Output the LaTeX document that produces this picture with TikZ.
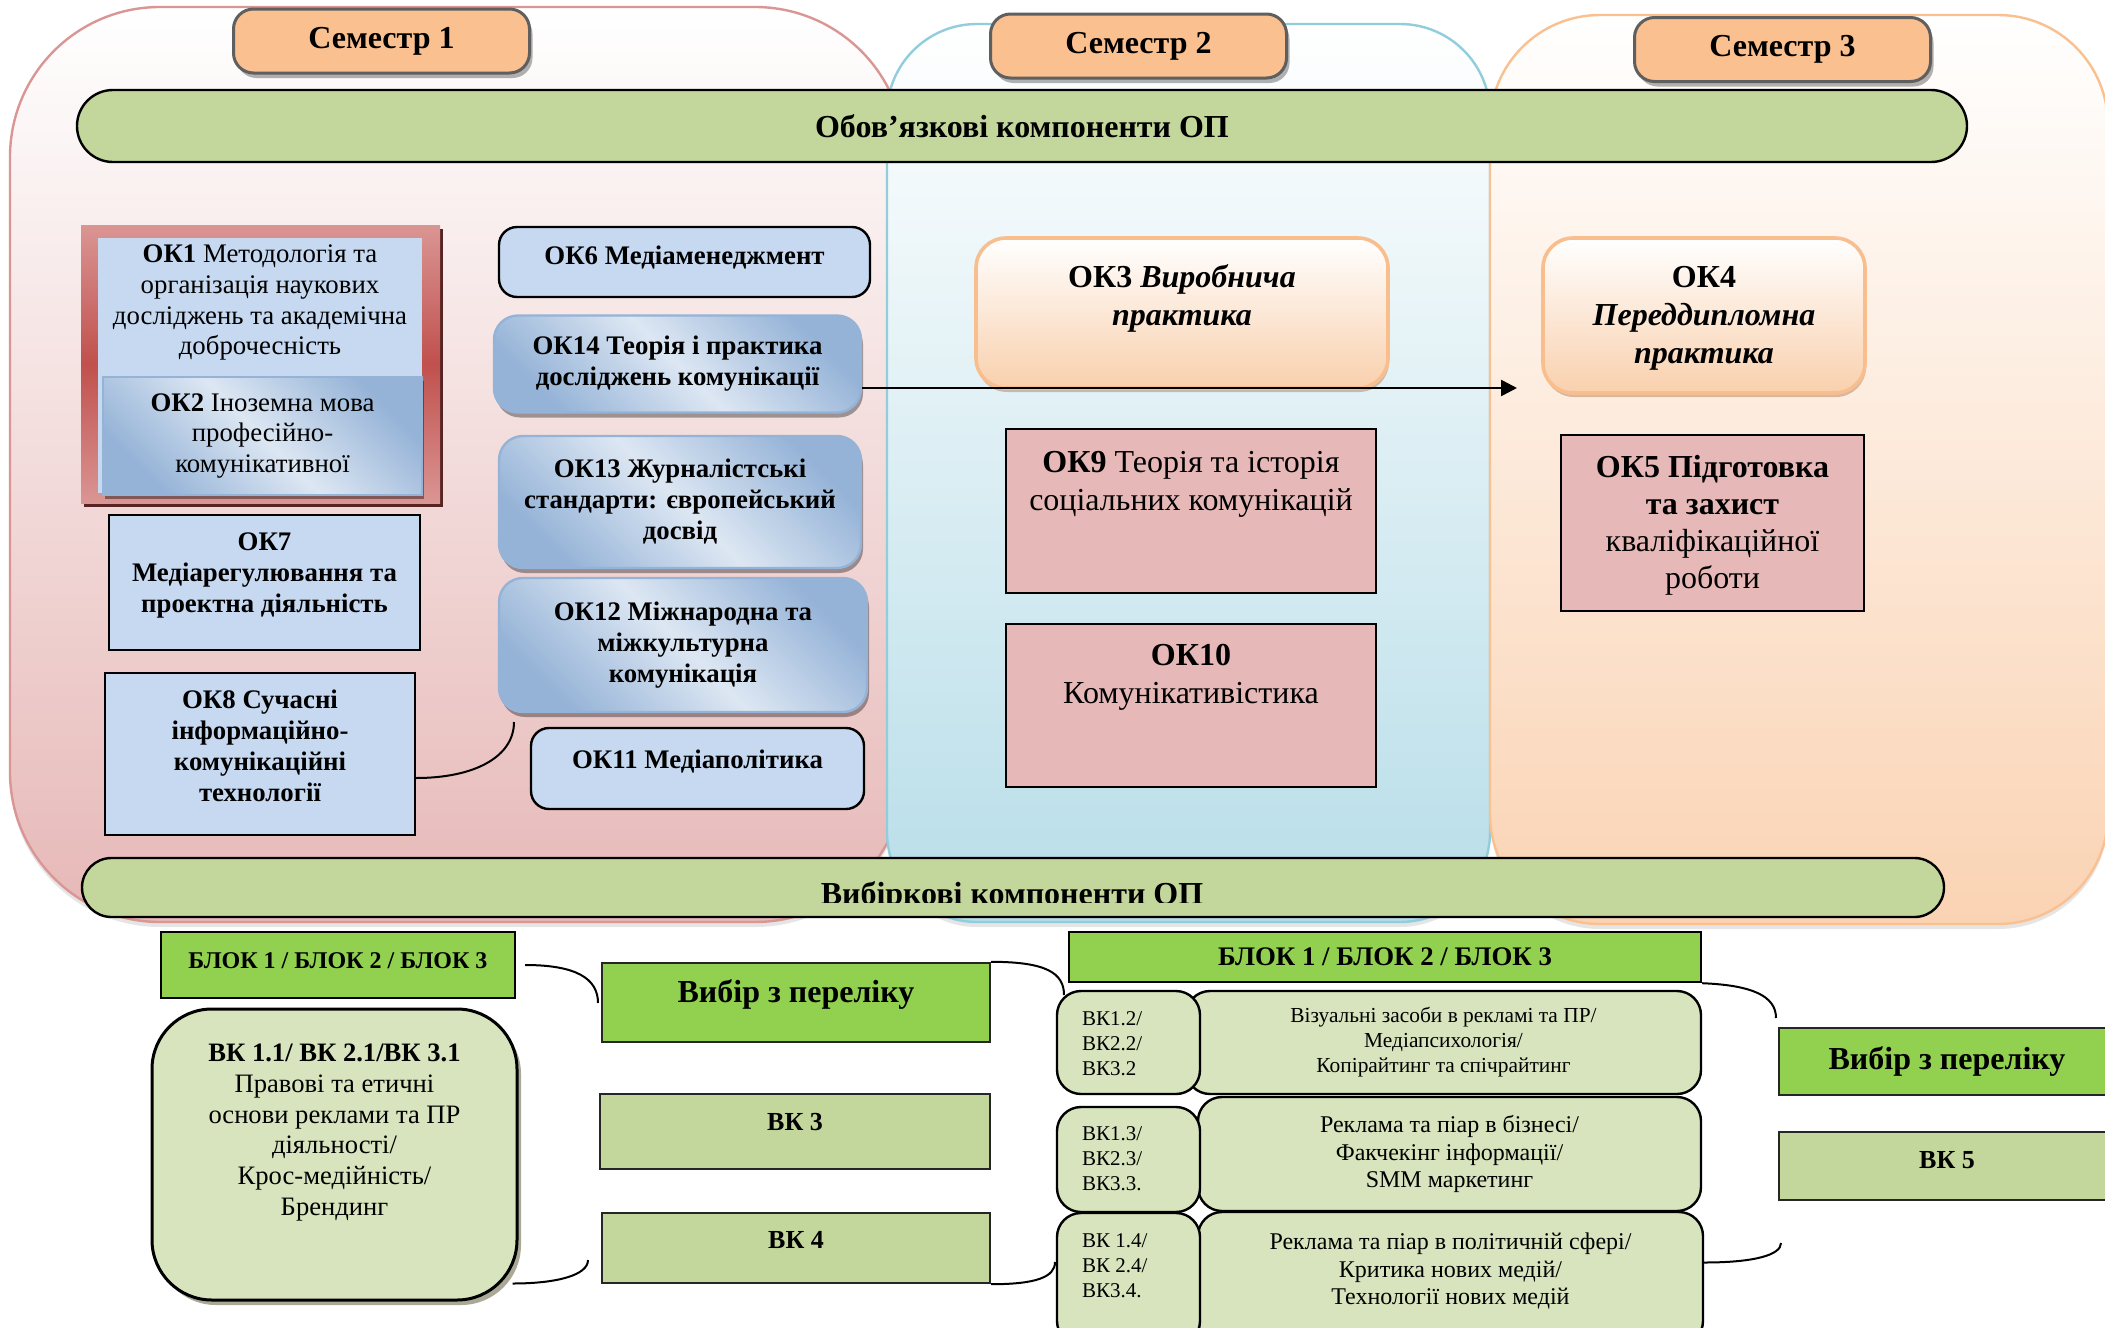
\documentclass[tikz,border=0pt]{standalone}
\usepackage{fontspec}
\setmainfont{Liberation Serif}
\usetikzlibrary{shadows,arrows.meta}

\definecolor{semfill}{HTML}{FAC090}
\definecolor{semline}{HTML}{5F5F5F}
\definecolor{bargreen}{HTML}{C3D69B}
\definecolor{okblue}{HTML}{C6D9F1}
\definecolor{okblueline}{HTML}{95B3D7}
\definecolor{oklight}{HTML}{DDE7F3}
\definecolor{okrose}{HTML}{E6B9B8}
\definecolor{brightgreen}{HTML}{92D050}
\definecolor{vkgreen}{HTML}{D7E4BD}
\definecolor{pinkline}{HTML}{D99694}
\definecolor{pinkbot}{HTML}{E6B8B7}
\definecolor{blueline}{HTML}{92CDDC}
\definecolor{bluebot}{HTML}{B7DDE8}
\definecolor{orangeline}{HTML}{FAC090}
\definecolor{orangebot}{HTML}{FAD3B3}
\definecolor{framelight}{HTML}{DA9694}
\definecolor{framedark}{HTML}{C0504D}
\definecolor{pracline}{HTML}{F9BE8E}
\definecolor{pracbot}{HTML}{F9D0AD}

\newcommand{\celltext}[4]{\parbox[c][#2][t]{#1}{\centering\vspace*{#3}\strut #4}}
\newcommand{\celltextl}[4]{\parbox[c][#2][t]{#1}{\vspace*{#3}\leftskip=12.5pt\strut #4}}

\begin{document}
\begin{tikzpicture}[x=0.5pt,y=-0.5pt]

      \tikzset{panel/.style={line width=1.2pt, drop shadow={shadow xshift=0pt, shadow yshift=-2.5pt, opacity=0.2}},
        semtitle/.style={draw=semline, line width=1.5pt, fill=semfill, rounded corners=10pt, minimum width=148pt, minimum height=32pt, inner sep=0pt, font=\fontsize{16}{19}\selectfont\bfseries, drop shadow={shadow xshift=1.5pt, shadow yshift=-2.5pt, fill=black, opacity=0.3}},
        barstyle/.style={draw=black, line width=1.2pt, fill=bargreen, inner sep=0pt, font=\fontsize{16}{19}\selectfont\bfseries},
        okplain/.style={draw=black, line width=1.2pt, fill=okblue, inner sep=0pt, align=center, font=\fontsize{13.4}{15.5}\selectfont\bfseries},
        okround/.style={okplain, rounded corners=9pt},
        okshade/.style={draw=okblueline, line width=1.2pt, rounded corners=12pt, left color=okblueline, right color=okblueline, middle color=oklight, shading angle=135, inner sep=0pt, align=center, font=\fontsize{13.4}{15.5}\selectfont\bfseries, drop shadow={shadow xshift=1pt, shadow yshift=-2.5pt, fill=black, opacity=0.35}},
        redframe/.style={top color=framelight, bottom color=framelight, middle color=framedark, inner sep=0pt, drop shadow={shadow xshift=1.5pt, shadow yshift=-2pt, fill=framedark!45!black, opacity=1}},
        okone/.style={fill=okblue, inner sep=0pt, font=\fontsize{13.4}{15.4}\selectfont},
        oktwo/.style={draw=okblueline, line width=0.8pt, left color=okblueline, right color=okblueline, middle color=oklight, shading angle=135, inner sep=0pt, align=center, font=\fontsize{13.4}{15.4}\selectfont, drop shadow={shadow xshift=1pt, shadow yshift=-2pt, fill=black, opacity=0.4}},
        okrosebox/.style={draw=black, line width=1.2pt, fill=okrose, inner sep=0pt, font=\fontsize{16}{19}\selectfont},
        prac/.style={draw=pracline, line width=1.8pt, top color=white, bottom color=pracbot, rounded corners=15pt, inner sep=0pt, font=\fontsize{16}{19}\selectfont\bfseries, drop shadow={shadow xshift=0.5pt, shadow yshift=-2pt, fill=pracline!70!black, opacity=0.5}},
        blokbox/.style={draw=black, line width=1.2pt, fill=brightgreen, inner sep=0pt, align=center, font=\fontsize{12}{14}\selectfont\bfseries},
        choicebox/.style={draw=black!85, line width=1.2pt, fill=brightgreen, inner sep=0pt, align=center, font=\fontsize{16}{18}\selectfont\bfseries},
        vkbox/.style={draw=black!85, line width=1.2pt, fill=bargreen, inner sep=0pt, align=center, font=\fontsize{13}{15.5}\selectfont\bfseries},
        vkround/.style={draw=black, line width=1.5pt, fill=vkgreen, rounded corners=30pt, inner sep=0pt, font=\fontsize{13.3}{15.4}\selectfont, drop shadow={shadow xshift=2pt, shadow yshift=-2.5pt, fill=olive!50!black, opacity=0.5}},
        codebox/.style={draw=black, line width=1.2pt, fill=vkgreen, rounded corners=12pt, inner sep=0pt, align=center, font=\fontsize{10.5}{12.5}\selectfont},
        link/.style={draw=black, line width=1pt},
        arrowline/.style={draw=black, line width=1.3pt, -{Triangle[length=8pt,width=8pt]}}}

      \useasboundingbox (0,0) rectangle (2105,1328);
      \clip (0,0) rectangle (2105,1328);
      \fill[white] (0,0) rectangle (2105,1328);

%% Semester panels
      \draw[panel, draw=pinkline, top color=white, bottom color=pinkbot, rounded corners=75pt] (10,7) rectangle (905,922);
      \draw[panel, draw=blueline, top color=white, bottom color=bluebot, rounded corners=45pt] (887,24) rectangle (1490,922);
      \draw[panel, draw=orangeline, top color=white, bottom color=orangebot, rounded corners=55pt] (1490,15) rectangle (2108,924);

      \node[semtitle] (sem1) at (381.5,41) {Семестр 1};
      \node[semtitle] (sem2) at (1138.5,46) {Семестр 2};
      \node[semtitle] (sem3) at (1782.5,49.5) {Семестр 3};

      \node[barstyle, minimum width=945pt, minimum height=36pt, rounded corners=18pt] (obov) at (1022,126) {Обов’язкові компоненти ОП};

%% Semester 1
      \node[redframe, minimum width=179.5pt, minimum height=139pt] (ok1frame) at (260.5,364) {};
      \node[okone] (ok1) at (260,365.5) {\celltext{162pt}{127.5pt}{1.5pt}{\textbf{ОК1} Методологія та\\організація наукових\\досліджень та академічна\\доброчесність}};
      \node[oktwo, minimum width=159.5pt, minimum height=59pt] (ok2) at (262.5,436) {\textbf{ОК2} Іноземна мова\\професійно-\\комунікативної};
      \node[okplain] (ok7) at (264.5,582.5) {\celltext{155.5pt}{67.5pt}{7pt}{ОК7\\Медіарегулювання та\\проектна діяльність}};
      \node[okplain] (ok8) at (260,754) {\celltext{155pt}{81pt}{7pt}{ОК8 Сучасні\\інформаційно-\\комунікаційні\\технології}};

      \node[okround] (ok6) at (684.5,262) {\celltext{185.5pt}{35pt}{8pt}{ОК6 Медіаменеджмент}};
      \node[okshade, minimum width=183.5pt, minimum height=48.5pt] (ok14) at (677.5,364) {ОК14 Теорія і практика\\досліджень комунікації};
      \node[okshade, minimum width=181pt, minimum height=66pt] (ok13) at (680,502) {ОК13 Журналістські\\стандарти: європейський\\досвід};
      \node[okshade, minimum width=184pt, minimum height=67pt] (ok12) at (683,645) {ОК12 Міжнародна та\\міжкультурна\\комунікація};
      \node[okround] (ok11) at (697.5,768.5) {\celltext{166.5pt}{40.5pt}{9.4pt}{ОК11 Медіаполітика}};

      \coordinate (ok8end) at (514,722);
      \draw[link] ([yshift=-12pt]ok8.east) .. controls +(58,0) and +(0,35) .. (ok8end);

%% Semester 2
      \node[prac] (ok3) at (1182,313) {\celltext{206pt}{75pt}{11.2pt}{ОК3 \textit{Виробнича}\\\textit{практика}}};
      \node[okrosebox] (ok9) at (1191,511) {\celltext{185pt}{82pt}{8.45pt}{\textbf{ОК9} Теорія та історія\\соціальних комунікацій}};
      \node[okrosebox] (ok10) at (1191,705.5) {\celltext{185pt}{81.5pt}{7.45pt}{\textbf{ОК10}\\Комунікативістика}};

%% Semester 3
      \node[prac] (ok4) at (1704,315.5) {\celltext{161pt}{77.5pt}{11.2pt}{ОК4\\\textit{Переддипломна}\\\textit{практика}}};
      \node[okrosebox, font=\fontsize{16}{18.5}\selectfont] (ok5) at (1712.5,523) {\celltext{151.5pt}{88pt}{8.3pt}{\textbf{ОК5 Підготовка}\\\textbf{та захист}\\кваліфікаційної\\роботи}};

      \coordinate (arrowend) at (1517,388);
      \draw[arrowline] ([yshift=-12pt]ok14.east) -- (arrowend);

%% Elective components
      \node[barstyle, minimum width=931pt, minimum height=29.5pt, rounded corners=14.75pt] (vybir) at (1013,887.5) {};
      \begin{scope}
        \clip (82,850) rectangle (1944,902);
        \node[font=\fontsize{16}{19}\selectfont\bfseries, anchor=base, inner sep=0pt] (vybirtext) at (1012,904) {Вибіркові компоненти ОП};
      \end{scope}

      \node[blokbox] (blok1) at (338,965) {\celltext{177pt}{33pt}{8.2pt}{БЛОК 1 / БЛОК 2 / БЛОК 3}};
      \node[vkround] (vk11) at (334.5,1154.5) {\celltext{182.5pt}{145.5pt}{15.5pt}{\textbf{ВК 1.1/ ВК 2.1/ВК 3.1}\\Правові та етичні\\основи реклами та ПР\\діяльності/\\Крос-медійність/\\Брендинг}};
      \node[choicebox] (choice1) at (796,1002.5) {\celltext{194pt}{39.5pt}{7pt}{Вибір з переліку}};
      \node[vkbox] (vk3) at (795,1131.5) {\celltext{195pt}{37.5pt}{7.4pt}{ВК 3}};
      \node[vkbox] (vk4) at (796,1248) {\celltext{194pt}{35pt}{6.9pt}{ВК 4}};

      \node[blokbox, minimum width=316pt, minimum height=25pt, font=\fontsize{13.4}{15}\selectfont\bfseries] (blok2) at (1385,957) {БЛОК 1 / БЛОК 2 / БЛОК 3};
      \node[codebox, minimum width=257.5pt, minimum height=51.5pt, font=\fontsize{10.7}{12.5}\selectfont] (desc1) at (1443.5,1042.5) {Візуальні засоби в рекламі та ПР/\\Медіапсихологія/\\Копірайтинг та спічрайтинг};
      \node[codebox] (code1) at (1128.5,1042.5) {\celltextl{71.5pt}{51.5pt}{8.25pt}{ВК1.2/\\ВК2.2/\\ВК3.2}};
      \node[codebox, minimum width=251.5pt, minimum height=57pt, font=\fontsize{12}{13.75}\selectfont] (desc2) at (1449.5,1154) {Реклама та піар в бізнесі/\\Факчекінг інформації/\\SMM маркетинг};
      \node[codebox] (code2) at (1128.5,1159.5) {\celltextl{71.5pt}{52.5pt}{7.75pt}{ВК1.3/\\ВК2.3/\\ВК3.3.}};
      \node[codebox, font=\fontsize{12}{13.75}\selectfont] (desc3) at (1450.5,1278.5) {\celltext{252.5pt}{66.5pt}{9.2pt}{Реклама та піар в політичній сфері/\\Критика нових медій/\\Технології нових медій}};
      \node[codebox] (code3) at (1128.5,1279) {\celltextl{71.5pt}{66pt}{8.25pt}{ВК 1.4/\\ВК 2.4/\\ВК3.4.}};

      \node[choicebox, minimum width=168pt, minimum height=33.5pt] (choice2) at (1947,1061.5) {Вибір з переліку};
      \node[vkbox] (vk5) at (1947,1166) {\celltext{168pt}{34pt}{7.4pt}{ВК 5}};

%Connectors
      \coordinate (blokend1) at (598,1003);
      \coordinate (vkend1) at (588,1260);
      \coordinate (choiceend1) at (1064,995);
      \coordinate (vk4end) at (1055,1262);
      \coordinate (blokend2) at (1776,1018);
      \coordinate (descend3) at (1781,1243);
      \draw[link] ([xshift=4.5pt]blok1.east) .. controls +(50,0) and +(0,-25) .. (blokend1);
      \draw[link] ([xshift=-3pt,yshift=9pt]vk11.south east) .. controls +(45,0) and +(0,15) .. (vkend1);
      \draw[link] (choice1.north east) .. controls +(55,0) and +(0,-22) .. (choiceend1);
      \draw[link] (vk4.south east) .. controls +(45,0) and +(0,15) .. (vk4end);
      \draw[link] (blok2.south east) .. controls +(50,2) and +(0,-22) .. (blokend2);
      \draw[link] ([yshift=8pt]desc3.east) .. controls +(50,0) and +(0,12) .. (descend3);
	\end{tikzpicture}
\end{document}
